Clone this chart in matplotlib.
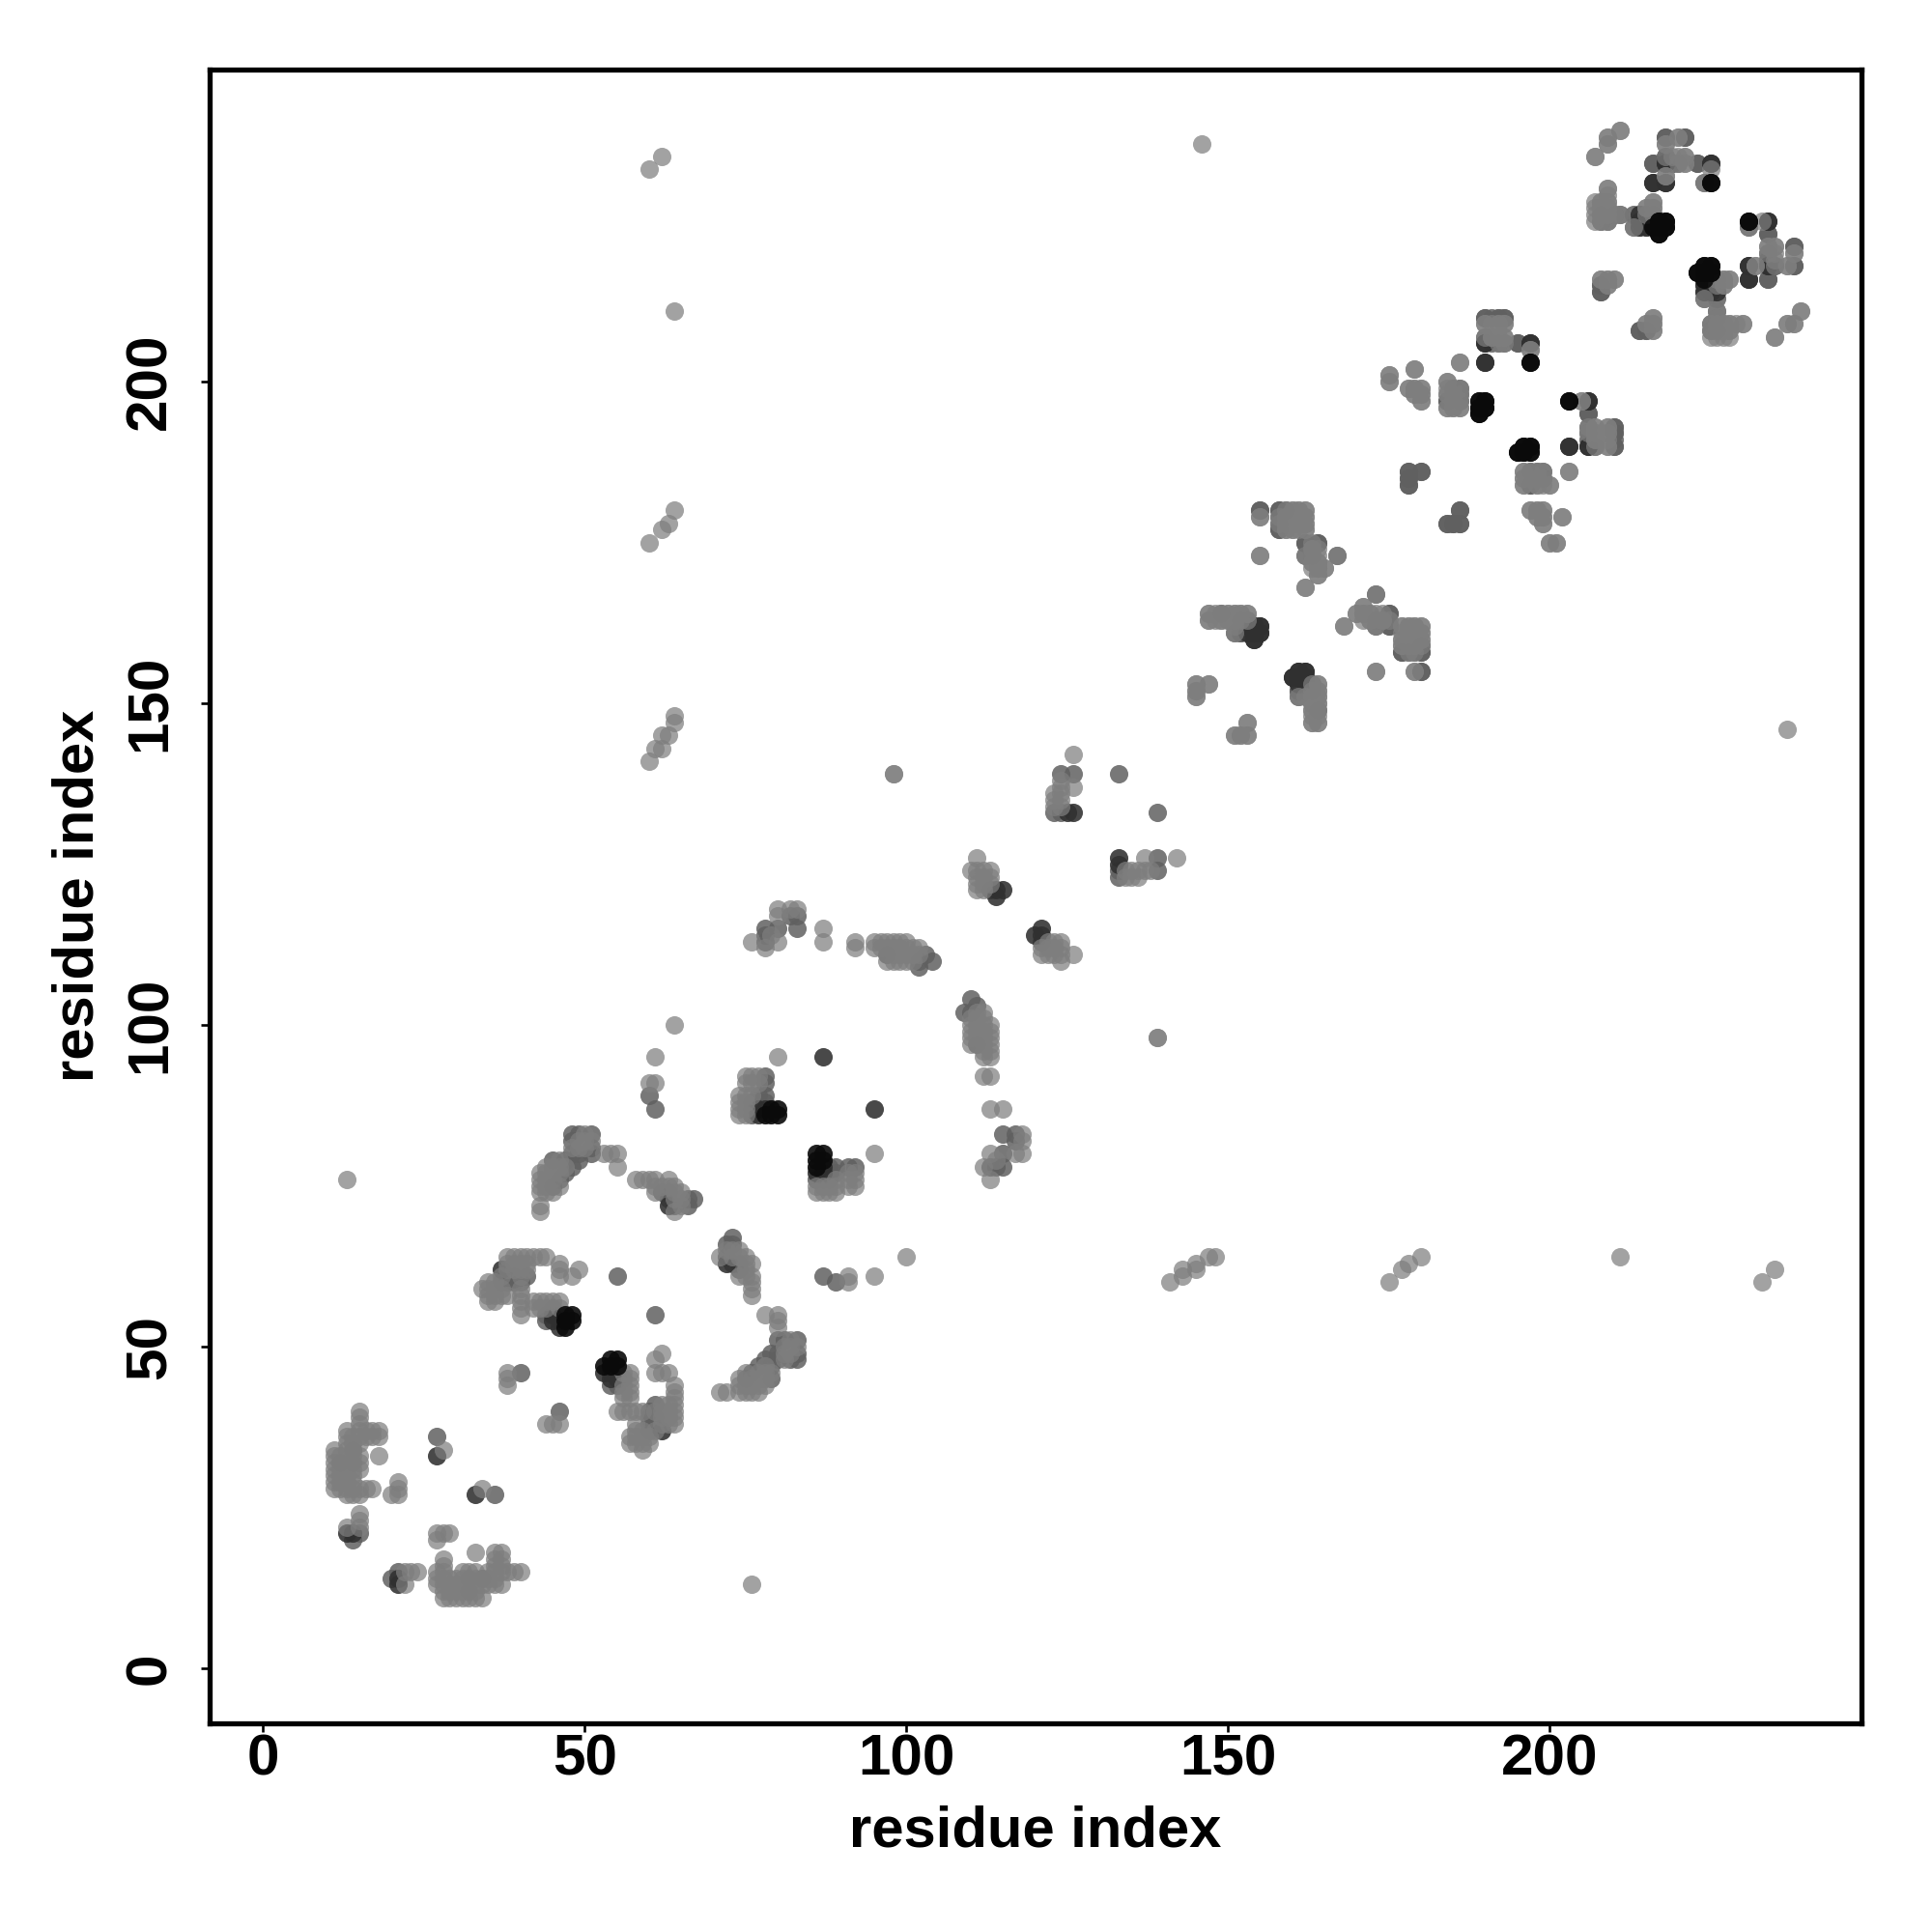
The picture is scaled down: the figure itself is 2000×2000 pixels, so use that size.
import matplotlib
matplotlib.use("Agg")
import matplotlib.pyplot as plt

# (residue_i, residue_j) contacts; the contact map is symmetric, both orders are drawn.
contacts_light = [
(11,28),(11,29),(11,30),(11,31),(11,32),(11,33),(11,34),(12,28),(12,29),(12,30),(12,31),(12,33),
(13,22),(13,27),(13,28),(13,29),(13,30),(13,31),(13,32),(13,33),(13,34),(13,35),(13,36),(13,37),
(14,27),(14,28),(14,29),(14,30),(14,31),(14,33),(14,35),(14,36),
(15,22),(15,23),(15,24),(15,27),(15,28),(15,31),(15,32),(15,33),(15,35),(15,36),(15,37),(15,38),(15,39),(15,40),
(16,28),(16,36),(16,37),(17,28),(17,36),(17,37),(18,33),(18,36),(18,37),(20,27),(21,27),(21,28),(21,29),(28,34),
(38,44),(38,45),(38,46),(34,59),(35,57),(35,58),(35,59),(35,60),(36,57),(36,58),(36,59),(36,60),
(37,58),(37,59),(37,61),(38,58),(38,62),(38,63),(38,64),(39,62),(39,63),(39,64),
(40,55),(40,56),(40,57),(40,58),(40,59),(40,61),(40,62),(40,63),(40,64),(41,62),(41,63),(41,64),
(42,56),(42,57),(42,64),(43,56),(43,57),(43,64),(44,56),(44,57),(44,64),(45,57),(46,56),(46,57),
(46,61),(46,62),(46,63),(48,61),(49,62),
(71,64),(72,65),(73,65),(74,65),(73,64),(75,64),(74,64),(75,63),(76,63),(75,62),(74,61),(75,61),(76,61),(76,60),(76,59),(76,58),
(78,55),(80,55),(80,54),(80,53),(71,43),(72,43),(74,43),(75,43),(76,43),(77,43),(74,44),(75,44),(76,44),(77,44),(78,44),
(74,45),(76,45),(77,45),(78,45),(75,46),(77,46),(78,46),(79,46),(78,47),(81,50),(81,49),(82,50),(83,50),(82,49),(81,48),(82,51),
(91,61),(91,60),(95,61),(100,64),(80,95),
(75,92),(76,92),(77,92),(75,91),(76,91),(77,91),(74,89),(75,89),(76,89),(74,88),(75,88),(74,87),(75,87),(74,86),(75,86),
(110,100),(110,99),(110,98),(110,97),(111,102),(111,101),(111,100),(111,99),(111,98),(112,101),(112,100),(112,99),(112,98),(112,97),(112,96),(112,95),
(113,100),(113,99),(113,98),(113,97),(113,96),(113,95),(112,92),(113,92),(113,87),(115,87),(112,102),(110,101),
(118,83),(118,82),(117,80),(118,80),(113,80),(114,79),(112,78),(113,76),
(111,126),(110,124),(111,124),(112,124),(113,124),(111,123),(112,123),(113,123),(111,122),(112,122),(113,122),(111,121),(112,121),
(137,126),(142,126),(134,124),(135,124),(136,124),(137,124),(138,124),(134,123),(135,123),(136,123),(139,98),
(155,179),(159,179),(159,178),(159,177),(160,180),(160,179),(160,178),(160,177),(161,180),(161,179),(161,178),(162,180),(162,179),(162,178),(162,177),
(163,175),(163,174),(163,173),(163,172),(164,174),(164,172),(164,171),(164,170),(165,171),(163,171),(155,173),(162,168),
(147,164),(147,163),(149,163),(150,164),(150,163),(151,164),(151,163),(152,164),(153,164),(151,162),(151,161),
(145,153),(145,152),(145,151),(147,153),(153,147),(151,145),(152,145),(153,145),
(163,153),(163,152),(164,152),(164,151),(163,150),(164,150),(163,149),(164,149),(163,148),(164,148),(163,147),(164,147),(163,151),(164,153),
(173,167),(171,165),(170,164),(171,164),(168,162),(172,164),(173,164),(172,163),(174,163),(173,162),
(177,162),(178,162),(179,162),(180,162),(177,161),(178,161),(179,161),(180,161),(177,160),(178,160),(179,160),(180,160),
(177,159),(178,159),(179,159),(180,159),(178,158),(179,158),(173,155),(179,155),
(186,203),(179,202),(175,201),(175,200),(178,199),(179,199),(180,199),(179,198),(180,198),(180,197),(184,200),(184,199),(186,199),
(192,209),(193,209),(191,207),(192,207),(193,207),(192,206),(193,206),(190,209),(197,205),(205,197),(207,193),(209,193),(209,192),(209,191),(209,190),
(207,190),(207,192),(207,191),(196,186),(197,186),(198,186),(196,185),(197,185),(198,185),(196,184),(200,184),(198,184),(203,186),
(197,180),(198,180),(199,180),(198,179),(199,179),(199,178),(202,179),(200,175),(201,175),(184,198),(184,196),(185,196),(185,199),(186,196),(185,198),(185,197),
(211,239),(209,238),(209,237),(207,235),(218,232),(224,231),(220,235),(221,235),(220,234),(221,234),(219,235),(218,237),(220,238),
(209,230),(209,229),(208,228),(209,228),(207,228),(207,227),(208,227),(209,227),(207,226),(208,226),(209,226),(207,225),(208,225),(209,225),
(216,228),(215,227),(216,227),(215,226),(216,226),(213,224),(233,225),(235,221),(238,220),(235,218),(232,218),(237,218),(227,216),(228,216),(227,215),
(226,211),(226,210),(228,209),(228,208),(230,209),(227,209),(227,208),(208,216),(209,216),(210,216),(209,215),(216,210),(216,209),(216,208),(215,209),
(239,211),(237,209),(238,209),(235,207),(234,221),
(60,233),(62,235),(64,211),(146,237),(60,175),(62,177),(63,178),(64,180),(60,141),(61,143),(62,143),(62,145),(63,145),(64,147),(64,148),(13,76),(98,139),
]

contacts_mid = [
(12,32),(14,20),(15,21),(14,32),(14,34),(27,36),(40,46),
(38,60),(38,61),(39,60),(39,61),(37,60),(40,60),(41,61),(44,55),(45,56),(44,54),(46,55),
(55,61),(73,67),(72,66),(73,66),(72,64),(73,63),(74,63),(76,46),(77,47),(79,47),(78,48),(79,49),(79,45),(75,45),
(80,48),(80,49),(80,51),(81,51),(83,51),(83,49),(83,48),(82,48),(87,61),(89,60),
(78,92),(78,91),(76,88),(77,89),(78,89),(77,88),(76,87),(76,86),(78,88),
(110,104),(109,102),(110,102),(111,103),(115,83),(117,83),(113,78),(114,78),(115,78),(115,80),
(113,121),(133,124),(133,123),(139,126),(139,124),(139,133),
(155,180),(158,180),(158,179),(158,178),(158,177),(159,180),(162,175),(164,175),(162,173),(167,173),
(149,164),(152,163),(153,163),(152,162),(152,161),(161,152),(161,151),(162,153),(162,152),(161,153),
(175,164),(175,162),(173,163),(177,158),(180,158),(180,155),
(190,210),(192,210),(193,210),(190,207),(195,206),(206,195),(206,193),(206,191),(210,193),(210,192),(210,191),(210,190),(206,192),
(199,186),(197,184),(199,185),(178,186),(180,186),(178,185),(178,184),(186,180),(184,178),(185,178),(186,178),(186,198),(186,197),(184,197),
(218,238),(221,238),(216,234),(223,234),(219,234),(210,226),(211,226),(213,226),(214,226),(214,225),(214,224),(215,224),(231,224),(234,223),
(238,221),(238,218),(234,216),(225,209),(225,208),(226,208),(224,213),(208,215),(208,214),(214,208),(215,208),(234,220),(234,219),
(74,62),(117,82),(111,97),
]

contacts_dark = [
(13,21),(14,21),(27,33),(37,62),(45,54),(45,55),(46,53),(46,54),(72,63),(87,95),
(77,87),(77,86),(78,87),(114,121),(114,120),(115,121),(133,126),(133,125),
(153,162),(153,161),(154,161),(154,162),(155,162),(155,161),(154,160),(161,155),(162,155),(160,154),(161,154),(162,154),
(190,206),(197,206),(190,203),(203,190),(206,197),(206,190),(197,189),
(218,235),(218,234),(216,231),(218,231),(216,224),(231,218),(234,218),(231,216),(225,234),(234,225),
(224,215),(224,214),(225,215),(225,214),(226,215),(226,214),(226,216),
]

contacts_black = [
(47,53),(47,54),(47,55),(48,54),(48,55),(78,86),(79,86),(79,87),(80,86),(80,87),
(197,203),(203,197),(190,197),(189,197),(189,196),(189,195),(190,196),(197,190),(196,190),(195,189),(196,189),
(225,231),(218,225),(217,225),(218,224),(217,224),(217,223),(231,225),(223,217),(224,218),(225,218),(224,217),(225,217),(224,216),
]

tick_values = [0, 50, 100, 150, 200]
axis_label = "residue index"

FONT = "Liberation Sans"
fig = plt.figure(figsize=(10, 10), dpi=200)
ax = fig.add_axes([217/2000, 1-1784/2000, 1710/2000, 1712.5/2000])

layers = [
    (contacts_mid, "#606060", 0.85),
    (contacts_dark, "#303030", 0.88),
    (contacts_light, "#7e7e7e", 0.72),
    (contacts_black, "#0a0a0a", 0.9),
]
for pairs, colour, alpha in layers:
    xs = [p[0] for p in pairs] + [p[1] for p in pairs]
    ys = [p[1] for p in pairs] + [p[0] for p in pairs]
    ax.scatter(xs, ys, s=47, c=colour, alpha=alpha, linewidths=0, zorder=3)

ax.set_xlim(-8.3, 248.5)
ax.set_ylim(-8.55, 248.6)
ax.set_xticks(tick_values)
ax.set_yticks(tick_values)
ax.set_xticklabels([str(t) for t in tick_values], fontname=FONT, fontweight="bold", fontsize=21.7)
ax.set_yticklabels([str(t) for t in tick_values], fontname=FONT, fontweight="bold", fontsize=21.7,
                   rotation=90, va="center")
for s in ax.spines.values():
    s.set_linewidth(1.9)
ax.tick_params(axis="both", length=3.4, width=0.95, color="black")
ax.tick_params(axis="x", pad=0.5)
ax.tick_params(axis="y", pad=8.7)
ax.set_xlabel(axis_label, fontname=FONT, fontweight="bold", fontsize=21.5, va="center")
ax.set_ylabel(axis_label, fontname=FONT, fontweight="bold", fontsize=21.5, va="center")
ax.xaxis.set_label_coords(0.5, -(1896-1784)/1712.5)
ax.yaxis.set_label_coords(-(217-81)/1710, (1784-927)/1712.5)
fig.savefig("out.png", dpi=200, facecolor="white")
